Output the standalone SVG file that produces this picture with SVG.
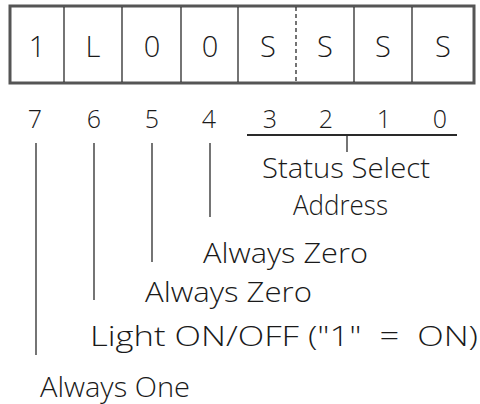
<svg xmlns="http://www.w3.org/2000/svg" width="480" height="404" viewBox="0 0 480 404">
<style>
.t{font-family:"Open Sans","DejaVu Sans",sans-serif;font-weight:300;fill:#1a1a1a}
.c{font-size:29px;text-anchor:middle}
.n{font-size:25px;text-anchor:middle}
.l{font-size:27px}
.ln{stroke:#2a2a2a;stroke-width:1.3;fill:none}
</style>
<rect width="480" height="404" fill="#fff"/>
<g id="register">
<rect x="10" y="6" width="464" height="77" fill="none" stroke="#555" stroke-width="3"/>
<g class="ln" stroke-width="1" stroke="#666">
<line x1="64" y1="7" x2="64" y2="82"/>
<line x1="122" y1="7" x2="122" y2="82"/>
<line x1="181" y1="7" x2="181" y2="82"/>
<line x1="238" y1="7" x2="238" y2="82"/>
<line x1="296" y1="7" x2="296" y2="82" stroke-dasharray="4 3"/>
<line x1="354" y1="7" x2="354" y2="82"/>
<line x1="412" y1="7" x2="412" y2="82"/>
</g>
<g class="t c">
<text x="37" y="57">1</text>
<text x="93" y="57">L</text>
<text x="152" y="57">0</text>
<text x="210" y="57">0</text>
<text x="268" y="57">S</text>
<text x="325" y="57">S</text>
<text x="383" y="57">S</text>
<text x="443" y="57">S</text>
</g>
</g>
<g id="bitnumbers" class="t n">
<text x="35" y="128">7</text>
<text x="94" y="128">6</text>
<text x="152" y="128">5</text>
<text x="209" y="128">4</text>
<text x="270" y="128">3</text>
<text x="326" y="128">2</text>
<text x="384" y="128">1</text>
<text x="440" y="128">0</text>
</g>
<g id="connectors" class="ln">
<line x1="247" y1="135" x2="457" y2="135" stroke-width="2"/>
<line x1="347" y1="135" x2="347" y2="152"/>
<line x1="210" y1="143" x2="210" y2="217"/>
<line x1="152" y1="143" x2="152" y2="262"/>
<line x1="94" y1="143" x2="94" y2="300"/>
<line x1="36" y1="143" x2="36" y2="355"/>
</g>
<g id="labels" class="t l">
<text x="262" y="178" textLength="168" lengthAdjust="spacingAndGlyphs">Status Select</text>
<text x="293" y="215" textLength="95" lengthAdjust="spacingAndGlyphs">Address</text>
<text x="203" y="263" textLength="165" lengthAdjust="spacingAndGlyphs">Always Zero</text>
<text x="145" y="302" textLength="167" lengthAdjust="spacingAndGlyphs">Always Zero</text>
<text x="90" y="346" textLength="388" lengthAdjust="spacingAndGlyphs" xml:space="preserve">Light ON/OFF ("1"  =  ON)</text>
<text x="40" y="397" textLength="150" lengthAdjust="spacingAndGlyphs">Always One</text>
</g>
</svg>
